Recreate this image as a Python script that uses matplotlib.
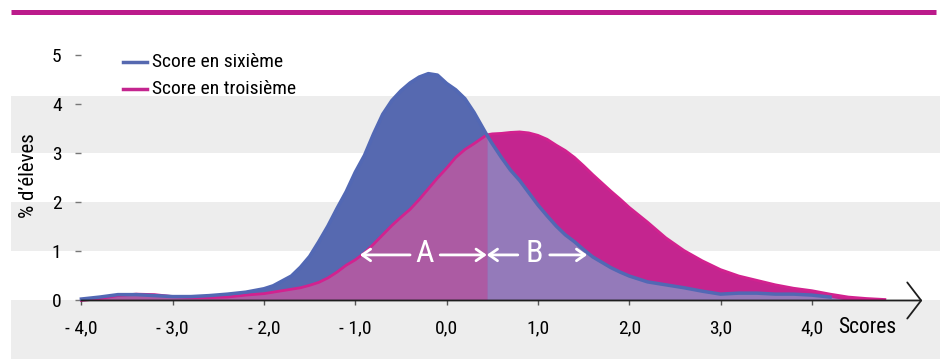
import numpy as np
import matplotlib
matplotlib.use("Agg")
import matplotlib.pyplot as plt
from matplotlib.lines import Line2D

plt.rcParams['font.family'] = ['Roboto Condensed', 'Liberation Sans Narrow', 'DejaVu Sans']

# score grid (same for both distributions)
scores = [-4.0, -3.8, -3.6, -3.4, -3.2, -3.0, -2.8, -2.6, -2.4, -2.2,
          -2.0, -1.9, -1.8, -1.7, -1.6, -1.5, -1.4, -1.3, -1.2, -1.1,
          -1.0, -0.9, -0.8, -0.7, -0.6, -0.5, -0.4, -0.3, -0.2, -0.1,
          0.0, 0.1, 0.2, 0.3, 0.44, 0.5, 0.6, 0.7, 0.8, 0.9,
          1.0, 1.1, 1.2, 1.3, 1.4, 1.5, 1.6, 1.7, 1.8, 1.9,
          2.0, 2.2, 2.4, 2.6, 2.8, 3.0, 3.2, 3.4, 3.6, 3.8,
          4.0, 4.2, 4.4, 4.6, 4.8]

sixieme = [0.03, 0.07, 0.12, 0.12, 0.10, 0.08, 0.08, 0.10, 0.13, 0.17,
           0.24, 0.30, 0.40, 0.50, 0.68, 0.90, 1.20, 1.52, 1.88, 2.22,
           2.62, 2.96, 3.40, 3.80, 4.08, 4.28, 4.44, 4.56, 4.63, 4.60,
           4.43, 4.30, 4.12, 3.84, 3.38, 3.20, 2.92, 2.66, 2.45, 2.20,
           1.95, 1.73, 1.52, 1.34, 1.20, 1.04, 0.89, 0.78, 0.67, 0.58,
           0.50, 0.38, 0.32, 0.26, 0.19, 0.13, 0.15, 0.15, 0.13, 0.13,
           0.11, 0.07, 0.0, 0.0, 0.0]

troisieme = [0.0, 0.04, 0.10, 0.13, 0.12, 0.08, 0.06, 0.06, 0.07, 0.11,
             0.14, 0.17, 0.20, 0.23, 0.26, 0.31, 0.37, 0.46, 0.58, 0.72,
             0.83, 0.97, 1.15, 1.34, 1.53, 1.70, 1.86, 2.06, 2.28, 2.50,
             2.70, 2.92, 3.08, 3.20, 3.38, 3.40, 3.41, 3.43, 3.44, 3.42,
             3.37, 3.29, 3.17, 3.06, 2.92, 2.75, 2.57, 2.40, 2.23, 2.07,
             1.90, 1.60, 1.28, 1.02, 0.81, 0.63, 0.50, 0.41, 0.32, 0.25,
             0.20, 0.13, 0.07, 0.04, 0.02]

series_labels = ['Score en sixième', 'Score en troisième']
x_ticks = [-4, -3, -2, -1, 0, 1, 2, 3, 4]
x_ticklabels = ['- 4,0', '- 3,0', '- 2,0', '- 1,0', '0,0', '1,0', '2,0', '3,0', '4,0']
y_ticks = [0, 1, 2, 3, 4, 5]
crossing = 0.44

BLUE = '#5669B0'
MAGENTA = '#C4258F'
OVER_L = '#AC5BA3'
OVER_R = '#947ABA'
GRAY = '#EDEDED'
BAR = '#BB1B8B'

fig = plt.figure(figsize=(9.4, 3.59), dpi=100)
ax = fig.add_axes([11 / 940, 0, 929 / 940, 329 / 359])
ax.set_xlim(-4.771, 5.404)
ax.set_ylim(-1.194, 5.520)

# background bands
for lo, hi in [(-1.194, 0), (1, 2), (3, 4.18)]:
    ax.axhspan(lo, hi, color=GRAY, lw=0, zorder=0)

x = np.array(scores)
b = np.array(sixieme)
m = np.array(troisieme)
low = np.minimum(b, m)

ax.fill_between(x, 0, b, color=BLUE, lw=0, zorder=2)
ax.fill_between(x, 0, m, color=MAGENTA, lw=0, zorder=2)
ax.fill_between(x, 0, low, where=x <= crossing, color=OVER_L, lw=0, zorder=3)
ax.fill_between(x, 0, low, where=x >= crossing, color=OVER_R, lw=0, zorder=3)
ax.plot(x, m, color='#D2228F', lw=2, zorder=4, solid_joinstyle='round')
ax.plot(x[b > 0], b[b > 0], color='#5268B4', lw=2.5, zorder=5, solid_joinstyle='round')

# axis line with open arrow
ax.annotate('', xy=(5.21, 0), xytext=(-4.0, 0),
            arrowprops=dict(arrowstyle='->,head_length=0.5,head_width=0.65',
                            color='#1e1e1e', lw=1.3, shrinkA=0, shrinkB=0,
                            mutation_scale=20), zorder=6, annotation_clip=False)

# A / B arrows
arr = dict(arrowstyle='->,head_length=0.5,head_width=0.35', color='white',
           lw=2, shrinkA=0, shrinkB=0, mutation_scale=12)
for x0, x1 in [(-0.40, -0.95), (-0.07, crossing), (0.78, crossing), (1.13, 1.54)]:
    ax.annotate('', xy=(x1, 0.93), xytext=(x0, 0.93), arrowprops=arr, zorder=7)
ax.text(-0.245, 0.95, 'A', color='white', fontsize=23, ha='center', va='center', zorder=7)
ax.text(0.955, 0.95, 'B', color='white', fontsize=23, ha='center', va='center', zorder=7)

# ticks
for s in ax.spines.values():
    s.set_color('none')
ax.spines['left'].set_position(('data', -4.0))
ax.spines['bottom'].set_position(('data', 0))
ax.set_xticks(x_ticks)
ax.set_xticklabels(x_ticklabels)
ax.set_yticks(y_ticks)
ax.tick_params(axis='y', length=4.3, width=1, color='#777777', pad=10, labelsize=14)
ax.tick_params(axis='x', length=3.6, width=1, color='#555555', pad=10, labelsize=14)

ax.text(4.287, -0.56, 'Scores', fontsize=15.5, ha='left', va='center')
fig.text(28 / 940, 1 - 176 / 359, '% d’élèves', rotation=90, fontsize=15,
         ha='center', va='center')

# legend
for i, (lab, col) in enumerate(zip(series_labels, [BLUE, MAGENTA])):
    yy = 1 - (62 + 27 * i) / 359
    fig.add_artist(Line2D([123 / 940, 147 / 940], [yy, yy], color=col, lw=2.5))
    fig.text(152 / 940, yy, lab, fontsize=14, ha='left', va='center')

# top bar
fig.add_artist(Line2D([11 / 940, 936 / 940], [1 - 11.5 / 359] * 2, color=BAR, lw=3.6,
                      solid_capstyle='butt'))

fig.savefig('out.png', dpi=100)
